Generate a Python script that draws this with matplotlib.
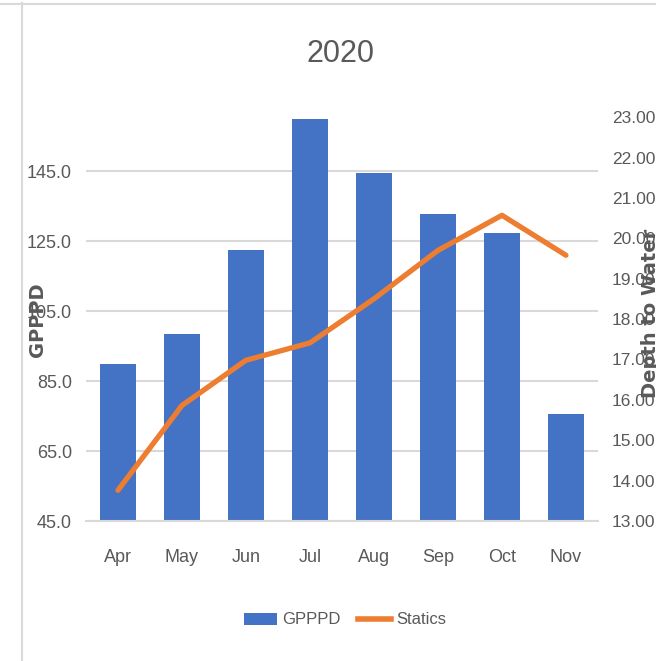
import matplotlib
matplotlib.use("Agg")
import matplotlib.pyplot as plt
from matplotlib.lines import Line2D
from matplotlib.patches import Patch
from matplotlib.ticker import FormatStrFormatter

months = ["Apr", "May", "Jun", "Jul", "Aug", "Sep", "Oct", "Nov"]
gpppd = [90.0, 98.3, 122.3, 159.8, 144.5, 132.8, 127.4, 75.7]
statics = [13.76, 15.86, 16.98, 17.41, 18.50, 19.70, 20.57, 19.58]

left_ticks = [45, 65, 85, 105, 125, 145]
right_ticks = [13, 14, 15, 16, 17, 18, 19, 20, 21, 22, 23]

bar_color = "#4472C4"
line_color = "#ED7D31"
grid_color = "#D9D9D9"
text_color = "#595959"

plt.rcParams['font.family'] = ['Liberation Sans', 'DejaVu Sans']

fig = plt.figure(figsize=(6.56, 6.61), dpi=100)
ax = fig.add_axes([0.131, 0.2118, 0.7805, 0.611])

x = list(range(len(months)))
ax.bar(x, gpppd, width=0.56, color=bar_color, zorder=2)
ax.set_xlim(-0.5, len(months) - 0.5)
ax.set_ylim(45, 160.4)
ax.set_yticks(left_ticks)
ax.yaxis.set_major_formatter(FormatStrFormatter("%.1f"))
ax.set_xticks(x)
ax.set_xticklabels(months)
ax.grid(axis="y", color=grid_color, linewidth=1.5, zorder=0)
for s in ["top", "left", "right"]:
    ax.spines[s].set_visible(False)
ax.spines["bottom"].set_color(grid_color)
ax.spines["bottom"].set_linewidth(1.5)
ax.tick_params(axis="both", length=0, labelsize=13, colors=text_color)
ax.tick_params(axis="x", pad=20)
ax.tick_params(axis="y", pad=10)

ax2 = ax.twinx()
ax2.plot(x, statics, color=line_color, linewidth=3.8, solid_capstyle="round", zorder=3)
ax2.set_ylim(13, 23)
ax2.set_yticks(right_ticks)
ax2.yaxis.set_major_formatter(FormatStrFormatter("%.2f"))
for s in ["top", "left", "right", "bottom"]:
    ax2.spines[s].set_visible(False)
ax2.tick_params(axis="y", length=0, labelsize=12.5, colors=text_color, pad=10)

fig.text(341 / 656, 1 - 54 / 661, "2020", ha="center", va="center",
         fontsize=22, color=text_color)
fig.text(38 / 656, 1 - 320 / 661, "GPPPD", rotation=90, ha="center", va="center",
         fontsize=14, fontweight="bold", color=text_color, family="DejaVu Sans")
fig.text(650 / 656, 1 - 313 / 661, "Depth to Water", rotation=90, ha="center",
         va="center", fontsize=14, fontweight="bold", color=text_color,
         family="DejaVu Sans")

handles = [Patch(facecolor=bar_color, label="GPPPD"),
           Line2D([0], [0], color=line_color, linewidth=4, label="Statics")]
fig.legend(handles=handles, loc="center", bbox_to_anchor=(345 / 656, 1 - 620 / 661),
           ncol=2, frameon=False, fontsize=12, labelcolor=text_color,
           handlelength=2.0, handletextpad=0.3, columnspacing=1.0)

# thin frame lines of the screenshot
fig.add_artist(Line2D([22 / 656, 22 / 656], [0, 1 - 3 / 661], color=grid_color, linewidth=1.5))
fig.add_artist(Line2D([0, 1], [1 - 4 / 661, 1 - 4 / 661], color=grid_color, linewidth=1.5))

fig.savefig("out.png", dpi=100)
